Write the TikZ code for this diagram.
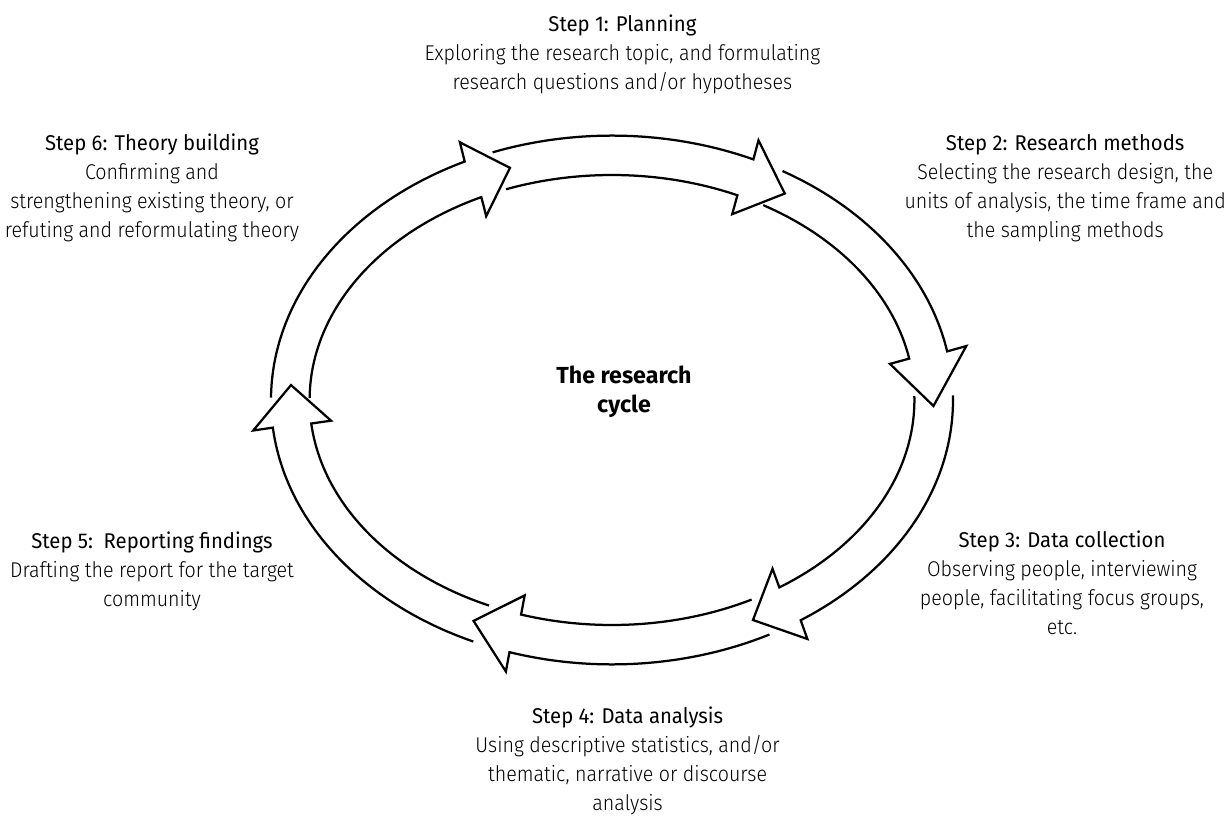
\documentclass[tikz,border=0pt]{standalone}
\usepackage{fontspec}
\usetikzlibrary{calc}
\setmainfont{Fira Sans}[FakeStretch=0.95]
\newfontfamily\thinfont{Fira Sans Light}[FakeStretch=0.92]
\newfontfamily\heavyfont{Fira Sans}[FakeStretch=1.0]

\tikzset{
	band/.style={ultra thick, line join=miter},
	stage/.style={align=center, inner sep=0pt, anchor=north, font=\fontsize{15.2}{20.6}\selectfont}
}

\begin{document}
\begin{tikzpicture}
			\useasboundingbox (-15.3,-10.375) rectangle (15.5,10);
			% the six arrows of the ring: outer edge, barb, tip, barb, inner edge back
			\draw[band] (179.5:8.525cm and 6.61cm) arc[start angle=179.5, end angle=115.6, x radius=8.525, y radius=6.61] -- ($(115.6:8.04cm and 6.12cm)!0.98cm!90:(114.6:8.04cm and 6.12cm)$) -- (108.5:8.04cm and 6.12cm) -- ($(115.6:8.04cm and 6.12cm)!0.98cm!-90:(114.6:8.04cm and 6.12cm)$) -- (115.6:7.56cm and 5.625cm) arc[start angle=115.6, end angle=179.5, x radius=7.56, y radius=5.625];
			\draw[band] (110.5:8.525cm and 6.61cm) arc[start angle=110.5, end angle=65.5, x radius=8.525, y radius=6.61] -- ($(65.5:8.04cm and 6.12cm)!0.98cm!90:(64.5:8.04cm and 6.12cm)$) -- (57.5:8.04cm and 6.12cm) -- ($(65.5:8.04cm and 6.12cm)!0.98cm!-90:(64.5:8.04cm and 6.12cm)$) -- (65.5:7.56cm and 5.625cm) arc[start angle=65.5, end angle=110.5, x radius=7.56, y radius=5.625];
			\draw[band] (60:8.525cm and 6.61cm) arc[start angle=60, end angle=10.6, x radius=8.525, y radius=6.61] -- ($(10.6:8.04cm and 6.12cm)!0.98cm!90:(9.6:8.04cm and 6.12cm)$) -- (-1.4:8.04cm and 6.12cm) -- ($(10.6:8.04cm and 6.12cm)!0.98cm!-90:(9.6:8.04cm and 6.12cm)$) -- (10.6:7.56cm and 5.625cm) arc[start angle=10.6, end angle=60, x radius=7.56, y radius=5.625];
			\draw[band] (1:8.525cm and 6.61cm) arc[start angle=1, end angle=-56.4, x radius=8.525, y radius=6.61] -- ($(-56.4:8.04cm and 6.12cm)!0.98cm!90:(-57.4:8.04cm and 6.12cm)$) -- (-64:8.04cm and 6.12cm) -- ($(-56.4:8.04cm and 6.12cm)!0.98cm!-90:(-57.4:8.04cm and 6.12cm)$) -- (-56.4:7.56cm and 5.625cm) arc[start angle=-56.4, end angle=1, x radius=7.56, y radius=5.625];
			\draw[band] (-62.5:8.525cm and 6.61cm) arc[start angle=-62.5, end angle=-107.5, x radius=8.525, y radius=6.61] -- ($(-107.5:8.04cm and 6.12cm)!0.98cm!90:(-108.5:8.04cm and 6.12cm)$) -- (-115.5:8.04cm and 6.12cm) -- ($(-107.5:8.04cm and 6.12cm)!0.98cm!-90:(-108.5:8.04cm and 6.12cm)$) -- (-107.5:7.56cm and 5.625cm) arc[start angle=-107.5, end angle=-62.5, x radius=7.56, y radius=5.625];
			\draw[band] (-114:8.525cm and 6.61cm) arc[start angle=-114, end angle=-174, x radius=8.525, y radius=6.61] -- ($(-174:8.04cm and 6.12cm)!0.98cm!90:(-175:8.04cm and 6.12cm)$) -- (-183.5:8.04cm and 6.12cm) -- ($(-174:8.04cm and 6.12cm)!0.98cm!-90:(-175:8.04cm and 6.12cm)$) -- (-174:7.56cm and 5.625cm) arc[start angle=-174, end angle=-114, x radius=7.56, y radius=5.625];
			% step texts round the ring
			\node[stage] (plan) at (0.26,9.73) {\strut Step 1: Planning\\{\thinfont Exploring the research topic, and formulating}\\{\thinfont research questions and/or hypotheses}};
			\node[stage] (methods) at (11.33,6.757) {\strut Step 2: Research methods\\{\thinfont Selecting the research design, the}\\{\thinfont units of analysis, the time frame and}\\{\thinfont the sampling methods}};
			\node[stage] (collect) at (11.25,-3.168) {\strut Step 3: Data collection\\{\thinfont Observing people, interviewing}\\{\thinfont people, facilitating focus groups,}\\{\thinfont etc.}};
			\node[stage] (analyse) at (0.39,-7.568) {\strut Step 4: Data analysis\\{\thinfont Using descriptive statistics, and/or}\\{\thinfont thematic, narrative or discourse}\\{\thinfont analysis}};
			\node[stage] (report) at (-11.5,-3.193) {\strut Step 5:\ \ Reporting findings\\{\thinfont Drafting the report for the target}\\{\thinfont community}};
			\node[stage] (theory) at (-11.5,6.757) {\strut Step 6: Theory building\\{\thinfont Confirming and}\\{\thinfont strengthening existing theory, or}\\{\thinfont refuting and reformulating theory}};
			\node[stage, font=\fontsize{16.5}{20.6}\selectfont\heavyfont\bfseries] (cycle) at (0.3,0.932) {\strut The research\\cycle};
\end{tikzpicture}
\end{document}
